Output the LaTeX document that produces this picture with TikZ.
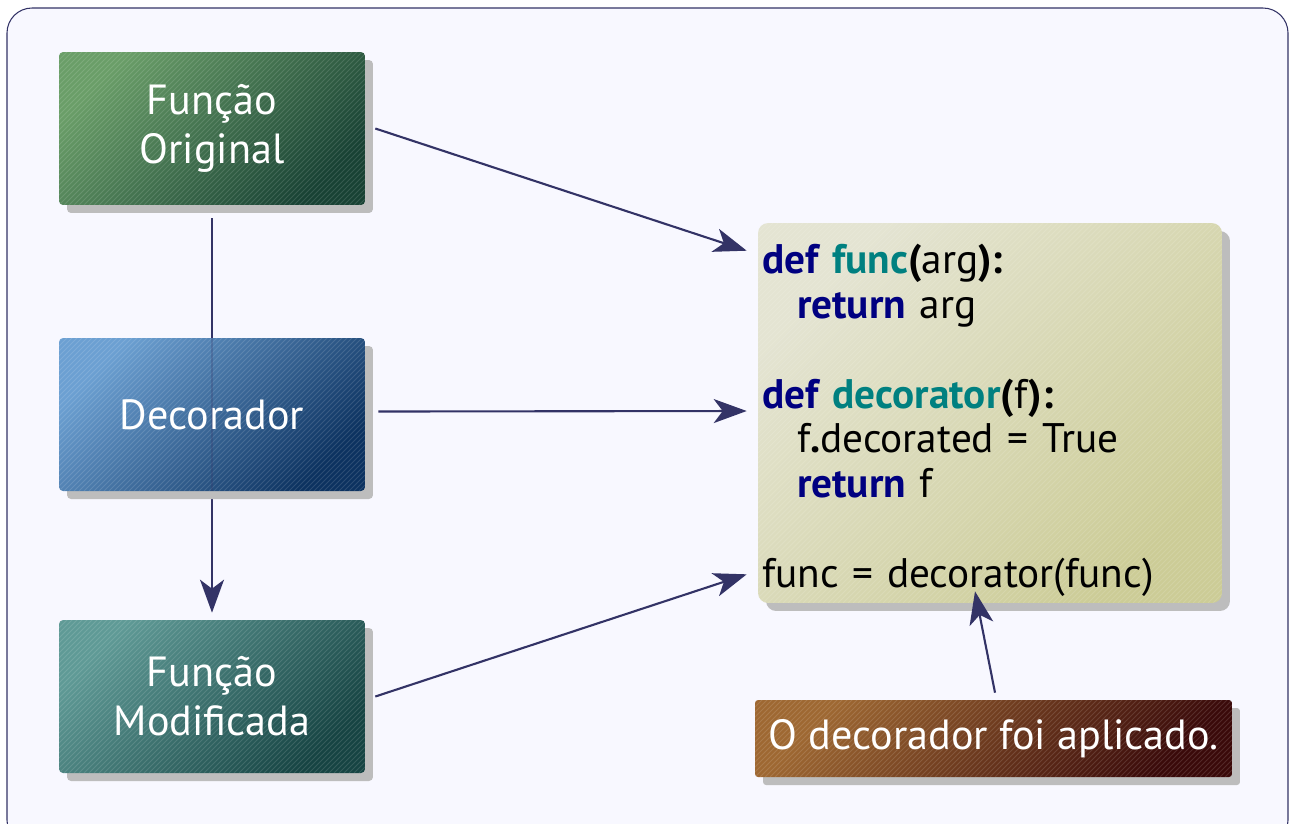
\documentclass[tikz,border=0pt]{standalone}
\usepackage{fontspec}
\setmainfont{PT Sans}
\usepackage{tikz}
\usetikzlibrary{positioning}
\usetikzlibrary{calc}
\usetikzlibrary{shadows}
\usetikzlibrary{arrows.meta}
\definecolor{linkblue}{HTML}{333366}
\definecolor{framebg}{HTML}{F8F8FF}
\definecolor{shadowgray}{HTML}{BDBDBD}
\definecolor{kw}{HTML}{000080}
\definecolor{fn}{HTML}{008080}
\tikzstyle{hatched}=[path picture={
        \foreach \k in {0,5,...,900}
          \draw [white, opacity=0.13, line width=0.5pt]
            ($(path picture bounding box.south west)+(\k-400,0)$) -- ++(400,-400);}]
\tikzstyle{stage}=[rectangle, rounded corners=0.08cm, minimum width=6.12cm, minimum height=3.06cm, inner sep=0pt, text=white, align=center, font=\fontsize{24}{28}\selectfont, drop shadow={shadow xshift=0.16cm, shadow yshift=-0.16cm, fill=shadowgray, opacity=1}, hatched]
\tikzstyle{link}=[draw=linkblue, line width=1.2pt, -{Stealth[length=0.66cm, width=0.48cm, inset=0.18cm]}]
\def\kwd#1{\textbf{\textcolor{kw}{#1}}}
\def\fnm#1{\textbf{\textcolor{fn}{#1}}}
\def\ind{\hspace*{0.7cm}}

\begin{document}
\begin{tikzpicture}[x=0.02cm, y=-0.02cm]
      \useasboundingbox (0,0) rectangle (1290,823);
      \draw [draw=linkblue, fill=framebg, line width=0.6pt, rounded corners=0.5cm] (7,8) rectangle (1288,845);
      \node [stage, top color={rgb,255:red,106;green,158;blue,104}, bottom color={rgb,255:red,24;green,66;blue,52}, shading angle=45] (orig) at (212,128.5) {Função\\Original};
      \node [stage, top color={rgb,255:red,95;green,154;blue,150}, bottom color={rgb,255:red,22;green,68;blue,67}, shading angle=45] (modif) at (212,696.5) {Função\\Modificada};
      \draw [link, shorten <=0.26cm, shorten >=0.14cm] (orig) -- (modif);
      \node [stage, top color={rgb,255:red,108;green,160;blue,210}, bottom color={rgb,255:red,12;green,50;blue,96}, shading angle=45] (deco) at (212,414.5) {Decorador};
      % line seen through the box
      \draw [linkblue, line width=1.2pt, opacity=0.25] (deco.north) -- (deco.south);
      \node [rectangle, rounded corners=0.2cm, minimum width=9.28cm, minimum height=7.6cm, text width=9.12cm, inner xsep=0.08cm, inner ysep=0pt, align=left, top color={rgb,255:red,228;green,228;blue,210}, bottom color={rgb,255:red,204;green,204;blue,150}, shading angle=45, drop shadow={shadow xshift=0.16cm, shadow yshift=-0.16cm, fill=shadowgray, opacity=1}, hatched, font=\fontsize{23.5}{25.5}\selectfont] (code) at (990,413) {%
        \rule{0pt}{25pt}\kwd{def} \fnm{func}\textbf{(}arg\textbf{):}\\
        \ind\kwd{return} arg\\
        ~\\
        \kwd{def} \fnm{decorator}\textbf{(}f\textbf{):}\\
        \ind f\textbf{.}decorated = True\\
        \ind\kwd{return} f\\
        ~\\
        func = decorator(func)};
      \node [stage, minimum width=9.54cm, minimum height=1.54cm, rounded corners=0.06cm, top color={rgb,255:red,158;green,104;blue,50}, bottom color={rgb,255:red,58;green,10;blue,10}, shading angle=45] (note) at (993.5,738.5) {O decorador foi aplicado.};

      \draw [link] ($(orig.east)+(10,0)$) -- ($(code.north west)+(-11,28)$);
      \draw [link] ($(deco.east)+(13,-3)$) -- ($(code.west)+(-11,-2)$);
      \draw [link] ($(modif.east)+(10,0)$) -- ($(code.south west)+(-11,-29)$);
      \draw [link] ($(note.north)+(1.5,-7)$) -- ($(code.south)+(-15,-12)$);
\end{tikzpicture}
\end{document}
